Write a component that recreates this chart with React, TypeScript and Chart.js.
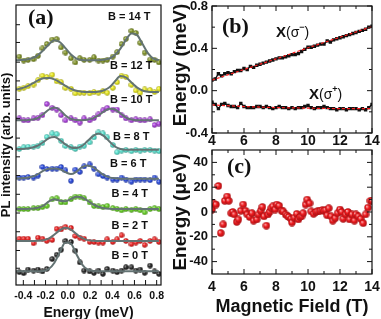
import React, { useEffect, useRef } from 'react';
import { Chart, registerables } from 'chart.js';
Chart.register(...registerables);

const SANS = '"Liberation Sans", Arial, Helvetica, sans-serif';
const SERIF = '"Liberation Serif", "Times New Roman", serif';
const INK = '#111111';
Chart.defaults.font.family = SANS;

// ---------------- Panel (a): PL spectra ----------------
const fieldsA = [0, 2, 4, 6, 8, 10, 12, 14];
const energyA = [-0.436, -0.397, -0.357, -0.308, -0.268, -0.228, -0.189, -0.14, -0.1, -0.06, -0.021, 0.029, 0.068, 0.108, 0.147, 0.197, 0.236, 0.276, 0.316, 0.355, 0.405, 0.444, 0.484, 0.523, 0.573, 0.612, 0.652, 0.692, 0.741, 0.781, 0.82];
const fitEnergyA = [-0.466, -0.416, -0.367, -0.317, -0.268, -0.219, -0.169, -0.12, -0.07, -0.021, 0.029, 0.078, 0.128, 0.177, 0.227, 0.276, 0.326, 0.375, 0.424, 0.474, 0.523, 0.573, 0.622, 0.672, 0.721, 0.771, 0.82];
const baselineA = [14, 44.7, 77, 107, 137, 167, 197, 227.7];

const pl0 = [-1, -2, 1.7, 0.7, 1.7, -0.3, 2.3, 12.3, 16.7, 21.7, 30.7, 29.7, 20.7, 9, 0.7, -0.3, -1.7, 0.7, -2.7, 2.3, 0.7, -1, 0.7, 4, 4, 0.7, 1.7, -1.7, 5.7, -0.3, -2.7];
const pl2 = [2.3, 2.3, 2.3, -2.3, 3.3, 2.3, 0, 1, 12.3, 11.7, 14.3, 13.3, 5, 3.3, 2.3, -1, -1, -1.7, -1.7, 1.7, -1, 1.7, 5.7, 0, -3.3, -1.7, 0, -4, 0, 1.7, -1];
const pl4 = [0, 0, 0, 1, 1, 2, 3.3, 10, 11, 6.7, 6.7, 10, 12.7, 12.7, 11, 6.7, 3.3, 2.7, 2, 3.3, 1, 0, -1.3, 0, -0.7, 0, -1.3, -3.3, 0, 1, 0];
const pl6 = [2, 2, 2.5, 2, 4, 12.7, 10.7, 11, 11, 12.7, 9.3, -1.3, 10, 7.7, 13.3, 15.3, 11, 5.3, 3.5, 2, 0, 0, 2, 0, -2.3, 0, 0, 0, -0.7, 2, -2.3];
const pl8 = [1, 2.7, 3.3, 3.3, 4.3, 7, 13.3, 16.7, 16, 9.3, 4, 2.7, 1, 3.3, 4.3, 7.7, 12.7, 17.7, 16.7, 12.7, 5, -2.3, -0.7, 0, -1.3, 0, -0.7, 0, 0, -0.7, -1.3];
const pl10 = [2, 0, 0, 2, 2.7, 5.3, 16.7, 12.7, 11, 5.3, 0, 2, 0, -2.3, 2, 0, 2.3, 6, 10, 12.7, 11, 11, 5, 2, 0, 1, 0, 0, 1, -4.7, -3.3];
const pl12 = [2, 3, 4.7, 6.3, 10.7, 15.3, 14, 16.3, 9.7, 8.7, 3, 2, -2.7, -2, -2, -2.7, -1.3, -2, -0.3, -2, 3, 8.7, 15.3, 14, 6, 0.3, -2, 1.3, 0.7, -1.3, 2];
const pl14 = [4, 0, 0.7, 1.3, 4.7, 12.3, 16.7, 21.3, 21.7, 13.3, 8, 2.3, -2, 2.3, 0.7, 0.7, 3.3, 0, 0, 0.7, 4, 8.5, 16.7, 22, 30, 28, 18, 8, 1, 0.7, -2];

const fit0 = [0, 0, 0, 0, 0, 0.3, 2.5, 8.6, 19.6, 29, 27.8, 17.2, 7, 1.8, 0.3, 0, 0, 0, 0, 0, 0, 0, 0, 0, 0, 0, 0];
const fit2 = [0, 0, 0, 0, 0.2, 0.6, 2.5, 6.5, 11, 13.3, 11.5, 7, 3, 0.8, 0.2, 0, 0, 0, 0, 0, 0, 0, 0, 0, 0, 0, 0];
const fit4 = [0, 0, 0.2, 0.5, 1.3, 3.5, 7.8, 10, 8.5, 8, 10.3, 12.5, 11.8, 8.5, 4.8, 2.3, 0.9, 0.3, 0, 0, 0, 0, 0, 0, 0, 0, 0];
const fit6 = [1, 1.2, 1.8, 3, 5.5, 9, 11, 11.2, 10.3, 7.5, 5.5, 8, 12.5, 14.3, 12.5, 8.5, 4.5, 2.2, 1.2, 0.8, 0.8, 0.8, 0.8, 0.8, 0.8, 0.8, 0.8];
const fit8 = [0.8, 1, 1.5, 2.5, 4.5, 8, 12, 13, 10, 5.5, 2.5, 2, 4, 9, 14, 16.7, 14, 8.5, 3.5, 1, 0.3, 0.3, 0.3, 0.3, 0.3, 0.3, 0.3];
const fit10 = [0, 0, 0.2, 0.8, 2.5, 6.5, 11, 13, 10.5, 5, 1.5, 0.3, 0.2, 0.6, 2, 5, 9, 11.8, 11, 7, 2.8, 0.8, 0.2, 0.2, 0.2, 0.2, 0.2];
const fit12 = [1.3, 2.5, 4.5, 7.5, 10.5, 12.7, 13, 11.5, 8.5, 5, 2, 0, -1, -1.3, -1.3, -1, 0.5, 3.5, 9.5, 15, 13.5, 8.5, 3.5, 0.3, -1, -1.3, -1.3];
const fit14 = [0.3, 0.5, 1, 2.5, 5.5, 10.5, 16.5, 20.5, 18.5, 12.5, 6, 2, 0.5, 0.2, 0.2, 0.3, 0.8, 2, 5.5, 12, 21, 27.5, 26, 17, 7.5, 2, 0.5];

const plA = [pl0, pl2, pl4, pl6, pl8, pl10, pl12, pl14];
const fitA = [fit0, fit2, fit4, fit6, fit8, fit10, fit12, fit14];
const colorsA = ['#2a2a2a', '#f02828', '#6ad02a', '#3050e0', '#5ee6d4', '#b048e0', '#eaea22', '#84962a'];
const labelPosA = [[111.5, 259], [111.5, 229], [111.5, 196.5], [110, 167], [113, 140], [110, 102.5], [110, 68.5], [108, 19.5]];

const energyTicksA = [-0.4, -0.2, 0, 0.2, 0.4, 0.6, 0.8];
const energyMarksA = [-0.4, -0.3, -0.2, -0.1, 0, 0.1, 0.2, 0.3, 0.4, 0.5, 0.6, 0.7, 0.8];
const intensityMarksA = [17, 35, 54, 73, 92, 111, 130, 149, 169, 188, 207, 226, 246, 264];

// ---------------- Panel (b): transition energies ----------------
const fieldB = [4, 4.2, 4.4, 4.6, 4.8, 5, 5.2, 5.4, 5.6, 5.8, 6, 6.2, 6.4, 6.6, 6.8, 7, 7.2, 7.4, 7.6, 7.8, 8, 8.2, 8.4, 8.6, 8.8, 9, 9.2, 9.4, 9.6, 9.8, 10, 10.2, 10.4, 10.6, 10.8, 11, 11.2, 11.4, 11.6, 11.8, 12, 12.2, 12.4, 12.6, 12.8, 13, 13.2, 13.4, 13.6, 13.8, 14];
const sigmaMinusB = [0.1, 0.11, 0.16, 0.14, 0.16, 0.17, 0.16, 0.18, 0.19, 0.19, 0.21, 0.2, 0.23, 0.22, 0.24, 0.25, 0.26, 0.27, 0.28, 0.29, 0.3, 0.31, 0.31, 0.32, 0.33, 0.34, 0.34, 0.35, 0.37, 0.39, 0.41, 0.41, 0.42, 0.43, 0.44, 0.44, 0.47, 0.46, 0.48, 0.49, 0.5, 0.51, 0.52, 0.53, 0.54, 0.55, 0.56, 0.57, 0.58, 0.6, 0.61];
const sigmaPlusB = [-0.11, -0.13, -0.17, -0.13, -0.12, -0.14, -0.15, -0.15, -0.16, -0.12, -0.15, -0.16, -0.16, -0.16, -0.15, -0.15, -0.16, -0.15, -0.16, -0.17, -0.16, -0.15, -0.16, -0.16, -0.17, -0.16, -0.17, -0.16, -0.16, -0.15, -0.14, -0.16, -0.17, -0.16, -0.16, -0.15, -0.16, -0.17, -0.17, -0.18, -0.17, -0.17, -0.18, -0.17, -0.17, -0.17, -0.18, -0.17, -0.18, -0.16, -0.13];
const fitFieldB = [4, 6, 8, 10, 12, 14];
const fitMinusB = [0.1, 0.2, 0.3, 0.405, 0.505, 0.605];
const fitPlusB = [-0.135, -0.15, -0.16, -0.165, -0.17, -0.17];
const fieldTicks = [4, 6, 8, 10, 12, 14];
const fieldMinor = [5, 7, 9, 11, 13];
const energyTicksB = [-0.4, 0, 0.4, 0.8];
const energyMinorB = [-0.2, 0.2, 0.6];

// ---------------- Panel (c): residual ----------------
const fieldC = [4, 4.1, 4.25, 4.4, 4.55, 4.7, 4.8, 4.95, 5.05, 5.2, 5.3, 5.4, 5.55, 5.65, 5.8, 5.95, 6.1, 6.2, 6.35, 6.5, 6.6, 6.8, 6.9, 7.05, 7.15, 7.25, 7.4, 7.5, 7.6, 7.7, 7.8, 7.95, 8.05, 8.2, 8.35, 8.45, 8.6, 8.7, 8.8, 8.95, 9, 9.15, 9.3, 9.4, 9.5, 9.6, 9.7, 9.85, 9.95, 10.1, 10.2, 10.35, 10.5, 10.6, 10.75, 10.9, 11, 11.1, 11.2, 11.3, 11.45, 11.55, 11.7, 11.85, 12, 12.1, 12.2, 12.35, 12.5, 12.6, 12.75, 12.9, 13, 13.15, 13.3, 13.45, 13.6, 13.75, 13.9, 14];
const deltaC = [2, 7, 6, 21, -17, -10, 9, 12.5, 9, -1, 0, -2, -8, -6, 1, 6, 1, -2, -4, -1, -7, -6, -2, 1, 4, -3.5, -11, -2, 0, 3, 4.5, 2, 6, 5, 1, 0.5, -2, -3, -4, -5.5, -8.5, -4.5, -1.5, -6, -4, -3.5, -1, 6, 10, 7, 0.5, -1.5, 0, 0.5, 1, 1.5, 1, 1.5, -2.7, 3, -3.5, -7, -5, -1, 2, 0, -5.5, -2, 0, -6, -2, -7, -2, -3.5, -5.5, -9, -2, 3.5, 9, 9];
const energyTicksC = [-40, -20, 0, 20, 40];
const energyMinorC = [-30, -10, 10, 30];

// ---------------- helpers ----------------
function mix(hex: string, target: number, t: number): string {
  const n = parseInt(hex.slice(1), 16);
  const ch = [(n >> 16) & 255, (n >> 8) & 255, n & 255].map((c) => Math.round(c + (target - c) * t));
  return `rgb(${ch[0]},${ch[1]},${ch[2]})`;
}

function sphere(color: string, r: number): HTMLCanvasElement {
  const c = document.createElement('canvas');
  const d = Math.ceil(r * 2);
  c.width = d;
  c.height = d;
  const g = c.getContext('2d')!;
  const m = d / 2;
  const grad = g.createRadialGradient(m - r * 0.35, m - r * 0.35, r * 0.05, m, m, r);
  grad.addColorStop(0, mix(color, 255, 0.7));
  grad.addColorStop(0.45, color);
  grad.addColorStop(1, mix(color, 0, 0.3));
  g.fillStyle = grad;
  g.beginPath();
  g.arc(m, m, r, 0, Math.PI * 2);
  g.fill();
  return c;
}

const fmt1 = (v: any) => {
  const s = Number(v).toFixed(1);
  return s === '-0.0' ? '0.0' : s;
};
const fixW = (w: number) => (s: any) => {
  s.width = w;
  s.paddingTop = 0;
  s.paddingBottom = 0;
};
const fixH = (h: number) => (s: any) => {
  s.height = h;
  s.paddingLeft = 0;
  s.paddingRight = 0;
};
const setTicks = (vals: number[]) => (s: any) => {
  s.ticks = vals.map((v) => ({ value: v }));
};
const boldFont = (size: number) => ({ family: SANS, weight: 'bold' as const, size, lineHeight: 1 });
const noGrid = { display: false, drawTicks: false, tickLength: 0 };

const decorPlugin = {
  id: 'decor',
  afterDatasetsDraw(chart: any, _args: any, opts: any) {
    const { ctx, chartArea: a } = chart;
    ctx.save();
    ctx.strokeStyle = INK;
    ctx.lineWidth = 1.2;
    ctx.strokeRect(a.left, a.top, a.right - a.left, a.bottom - a.top);
    ctx.lineWidth = 1;
    for (const t of opts.marks || []) {
      const scale = chart.scales[t.axis];
      ctx.beginPath();
      for (const v of t.values) {
        const p = scale.getPixelForValue(v);
        if (t.axis === 'x') {
          ctx.moveTo(p, a.bottom);
          ctx.lineTo(p, a.bottom - t.len);
          if (t.both) {
            ctx.moveTo(p, a.top);
            ctx.lineTo(p, a.top + t.len);
          }
        } else {
          ctx.moveTo(a.left, p);
          ctx.lineTo(a.left + t.len, p);
          if (t.both) {
            ctx.moveTo(a.right, p);
            ctx.lineTo(a.right - t.len, p);
          }
        }
      }
      ctx.stroke();
    }
    ctx.fillStyle = INK;
    for (const s of opts.texts || []) {
      ctx.save();
      ctx.translate(s.x, s.y);
      if (s.rotate) ctx.rotate(s.rotate);
      ctx.textBaseline = s.baseline || 'alphabetic';
      ctx.textAlign = 'left';
      let total = 0;
      for (const r of s.runs) {
        ctx.font = r.font;
        total += ctx.measureText(r.text).width;
      }
      let x = s.align === 'center' ? -total / 2 : 0;
      for (const r of s.runs) {
        ctx.font = r.font;
        ctx.fillText(r.text, x, r.dy || 0);
        x += ctx.measureText(r.text).width;
      }
      ctx.restore();
    }
    ctx.restore();
  },
};

const baseOptions = (padding: any) => ({
  animation: false,
  responsive: false,
  maintainAspectRatio: false,
  events: [],
  layout: { padding },
});

// ---------------- chart builders ----------------
function buildA() {
  const fits = fieldsA.map((b, k) => ({
    label: `fit ${b} T`,
    data: fitEnergyA.map((e, i) => ({ x: e, y: baselineA[k] + fitA[k][i] })),
    showLine: true,
    borderColor: '#637373',
    borderWidth: 2,
    pointRadius: 0,
    cubicInterpolationMode: 'monotone',
    order: 0,
  }));
  const pts = fieldsA.map((b, k) => ({
    label: `B = ${b} T`,
    data: energyA.map((e, i) => ({ x: e, y: baselineA[k] + plA[k][i] })),
    showLine: false,
    pointStyle: sphere(colorsA[k], 2.7),
    pointRadius: 2.7,
    order: 1,
  }));
  const texts: any[] = [{ x: 28, y: 24, runs: [{ text: '(a)', font: `bold 22px ${SERIF}` }] }];
  fieldsA.forEach((b, k) => {
    texts.push({ x: labelPosA[k][0], y: labelPosA[k][1], runs: [{ text: `B = ${b} T`, font: `bold 11px ${SANS}` }] });
  });
  return {
    type: 'scatter',
    data: { datasets: [...fits, ...pts] },
    options: {
      ...baseOptions({ left: 0, top: 1, right: 220, bottom: 0 }),
      plugins: {
        legend: { display: false },
        tooltip: { enabled: false },
        decor: {
          marks: [
            { axis: 'x', values: energyMarksA, len: 5, both: false },
            { axis: 'y', values: intensityMarksA, len: 4, both: false },
          ],
          texts,
        },
      },
      scales: {
        x: {
          type: 'linear',
          min: -0.466,
          max: 0.839,
          grid: noGrid,
          border: { display: false },
          afterBuildTicks: setTicks(energyTicksA),
          afterFit: fixH(34),
          ticks: { autoSkip: false, maxRotation: 0, padding: 5.5, color: INK, font: boldFont(10.5), callback: fmt1 },
          title: { display: true, text: 'Energy (meV)', color: INK, font: boldFont(14), padding: { top: 0, bottom: -1 } },
        },
        y: {
          type: 'linear',
          min: 0,
          max: 284,
          grid: noGrid,
          border: { display: false },
          afterFit: fixW(16),
          ticks: { display: false },
          title: { display: true, text: 'PL intensity (arb. units)', color: INK, font: boldFont(13), padding: { top: 0, bottom: 0 } },
        },
      },
    },
    plugins: [decorPlugin],
  };
}

function sigmaLabel(x: number, y: number, sign: string) {
  return {
    x,
    y,
    runs: [
      { text: 'X', font: `bold 15px ${SANS}` },
      { text: '(σ', font: `14px ${SANS}` },
      { text: sign, font: `bold 9px ${SANS}`, dy: -7 },
      { text: ')', font: `14px ${SANS}` },
    ],
  };
}

const fieldScale = (height: number, pad: number, withTitle: boolean) => ({
  type: 'linear',
  min: 4,
  max: 14,
  grid: noGrid,
  border: { display: false },
  afterBuildTicks: setTicks(fieldTicks),
  afterFit: fixH(height),
  ticks: { autoSkip: false, maxRotation: 0, padding: pad, color: INK, font: boldFont(14) },
  title: withTitle
    ? { display: true, text: 'Magnetic Field (T)', color: INK, font: boldFont(18), padding: { top: 0, bottom: 3 } }
    : { display: false },
});

function buildB() {
  return {
    type: 'scatter',
    data: {
      datasets: [
        {
          label: 'fit σ-',
          data: fitFieldB.map((f, i) => ({ x: f, y: fitMinusB[i] })),
          showLine: true,
          borderColor: '#ff2020',
          borderWidth: 1.2,
          borderDash: [3, 2],
          pointRadius: 0,
          order: 0,
        },
        {
          label: 'fit σ+',
          data: fitFieldB.map((f, i) => ({ x: f, y: fitPlusB[i] })),
          showLine: true,
          borderColor: '#ff2020',
          borderWidth: 1.2,
          borderDash: [3, 2],
          pointRadius: 0,
          order: 0,
        },
        {
          label: 'X(σ-)',
          data: fieldB.map((f, i) => ({ x: f, y: sigmaMinusB[i] })),
          showLine: true,
          borderColor: '#111',
          borderWidth: 1.4,
          pointStyle: 'rect',
          pointRadius: 1.4,
          pointBackgroundColor: '#111',
          pointBorderColor: '#111',
          order: 1,
        },
        {
          label: 'X(σ+)',
          data: fieldB.map((f, i) => ({ x: f, y: sigmaPlusB[i] })),
          showLine: true,
          borderColor: '#111',
          borderWidth: 1.4,
          pointStyle: 'rect',
          pointRadius: 1.4,
          pointBackgroundColor: '#111',
          pointBorderColor: '#111',
          order: 1,
        },
      ],
    },
    options: {
      ...baseOptions({ left: 171, top: 6, right: 9, bottom: 169 }),
      plugins: {
        legend: { display: false },
        tooltip: { enabled: false },
        decor: {
          marks: [
            { axis: 'x', values: fieldTicks, len: 5, both: true },
            { axis: 'x', values: fieldMinor, len: 3, both: true },
            { axis: 'y', values: energyTicksB, len: 5, both: true },
            { axis: 'y', values: energyMinorB, len: 3, both: true },
          ],
          texts: [
            { x: 222, y: 33, runs: [{ text: '(b)', font: `bold 22px ${SERIF}` }] },
            sigmaLabel(276, 36.5, '−'),
            sigmaLabel(309, 99, '+'),
            {
              x: 180.5,
              y: 65,
              rotate: -Math.PI / 2,
              align: 'center',
              baseline: 'middle',
              runs: [{ text: 'Energy (meV)', font: `bold 19px ${SANS}` }],
            },
          ],
        },
      },
      scales: {
        x: fieldScale(17, 1, false),
        y: {
          type: 'linear',
          min: -0.4,
          max: 0.8,
          grid: noGrid,
          border: { display: false },
          afterBuildTicks: setTicks(energyTicksB),
          afterFit: fixW(41),
          ticks: { padding: 4, color: INK, font: boldFont(13), callback: fmt1 },
          title: { display: false },
        },
      },
    },
    plugins: [decorPlugin],
  };
}

function buildC() {
  return {
    type: 'scatter',
    data: {
      datasets: [
        {
          label: 'residual',
          data: fieldC.map((f, i) => ({ x: f, y: deltaC[i] })),
          showLine: false,
          pointStyle: sphere('#f01a1e', 3.7),
          pointRadius: 3.7,
        },
      ],
    },
    options: {
      ...baseOptions({ left: 171, top: 150, right: 9, bottom: 0 }),
      plugins: {
        legend: { display: false },
        tooltip: { enabled: false },
        decor: {
          marks: [
            { axis: 'x', values: fieldTicks, len: 5, both: true },
            { axis: 'x', values: fieldMinor, len: 3, both: true },
            { axis: 'y', values: energyTicksC, len: 5, both: true },
            { axis: 'y', values: energyMinorC, len: 3, both: true },
          ],
          texts: [{ x: 227, y: 173, runs: [{ text: '(c)', font: `bold 22px ${SERIF}` }] }],
        },
      },
      scales: {
        x: fieldScale(45, 6.5, true),
        y: {
          type: 'linear',
          min: -50,
          max: 50,
          grid: noGrid,
          border: { display: false },
          afterBuildTicks: setTicks(energyTicksC),
          afterFit: fixW(41),
          ticks: { padding: 4, color: INK, font: boldFont(13) },
          title: { display: true, text: 'Energy (μeV)', color: INK, font: boldFont(19), padding: { top: 0, bottom: 0 } },
        },
      },
    },
    plugins: [decorPlugin],
  };
}

function ChartCanvas({ build }: { build: () => any }) {
  const ref = useRef<HTMLCanvasElement>(null);
  useEffect(() => {
    const chart = new Chart(ref.current as HTMLCanvasElement, build());
    return () => chart.destroy();
  }, []);
  return (
    <canvas
      ref={ref}
      width={381}
      height={319}
      style={{ position: 'absolute', left: 0, top: 0, width: 381, height: 319 }}
    />
  );
}

export default function App() {
  return (
    <div style={{ position: 'fixed', left: 0, top: 0, width: 381, height: 319, background: '#ffffff', overflow: 'hidden' }}>
      <ChartCanvas build={buildA} />
      <ChartCanvas build={buildB} />
      <ChartCanvas build={buildC} />
    </div>
  );
}
